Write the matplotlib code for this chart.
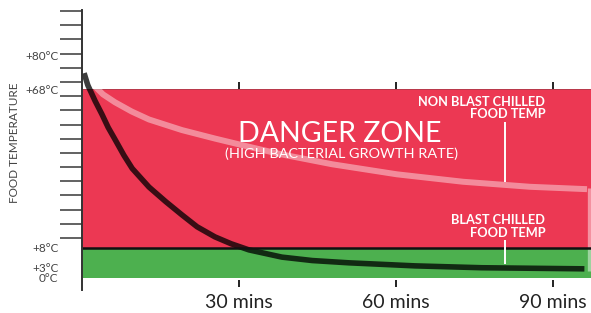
import matplotlib
matplotlib.use("Agg")
import matplotlib.pyplot as plt
import numpy as np

plt.rcParams['font.family'] = ['Lato', 'DejaVu Sans']

# time (mins) / temperature (deg C)
blast_t = [0.4, 1.1, 2.5, 3.8, 5.0, 6.3, 8.0, 9.6, 12.8, 16.0, 19.1, 22.0,
           25.4, 28.5, 31.9, 38.2, 44.0, 51.0, 63.6, 76.4, 96.0]
blast_temp = [73.6, 69.4, 63.5, 58.5, 53.5, 49.0, 43.0, 38.0, 31.0, 25.5, 20.5, 16.0,
              12.2, 9.6, 7.5, 5.6, 4.7, 4.1, 3.3, 2.8, 2.5]
nonblast_t = [0.4, 1.9, 4.0, 6.3, 9.5, 12.8, 19.1, 25.4, 31.9, 38.2, 47.8,
              60.2, 72.8, 85.6, 96.5]
nonblast_temp = [73.6, 70.0, 66.0, 63.0, 59.5, 56.5, 52.5, 49.3, 46.2, 43.3, 39.6,
                 35.8, 33.0, 31.1, 30.2]

time_ticks = [30, 60, 90]
time_labels = ['30 mins', '60 mins', '90 mins']
temp_ticks = [80, 68, 8, 3, 0]
temp_labels = ['+80°C', '+68°C', '+8°C', '+3°C', '0°C']
danger_lo, danger_hi = 8, 68

# the temperature axis of the drawing is not linear: piecewise scale
knot_temp = [-5, 0, 3, 8, 68, 80, 100]
knot_h = [-6.3, 12, 23, 42, 201, 235, 291.7]

def fwd(v):
    return np.interp(v, knot_temp, knot_h)

def inv(v):
    return np.interp(v, knot_h, knot_temp)

RED = '#ec3853'
GREEN = '#4db04f'

fig = plt.figure(figsize=(5.91, 3.13), dpi=100)
ax = fig.add_axes([82 / 591, 23 / 313, 509 / 591, 280 / 313])
ax.set_yscale('function', functions=(fwd, inv))
xmax = 509 / 157 * 30
ax.set_xlim(0, xmax)
ax.set_ylim(inv(0), inv(280))

ax.axhspan(danger_lo, danger_hi, color=RED, lw=0, zorder=1)
ax.axhspan(0, danger_lo, color=GREEN, lw=0, zorder=1)
ax.axhline(danger_lo, color='#111111', lw=1.8, zorder=4)
ax.axhline(danger_hi, color='#b03a4a', lw=0.6, zorder=2)

ax.plot(nonblast_t, nonblast_temp, color='white', alpha=0.42, lw=4.3,
        solid_capstyle='butt', solid_joinstyle='round', zorder=3)
ax.plot(blast_t, blast_temp, color='black', alpha=0.76, lw=4.0,
        solid_capstyle='butt', solid_joinstyle='round', zorder=3)
# pale end of the tube at the right edge
ax.vlines(96.9, 2.0, 30.5, color='white', alpha=0.45, lw=2.4, zorder=3)

# small marks at the top of the danger zone and below the green zone
ax.vlines(time_ticks, danger_hi, 70.5, color='#222222', lw=1.4, zorder=2)
ax.vlines(time_ticks, inv(3), inv(10), color='#222222', lw=1.4, zorder=2)

ax.text(49.3, 51.0, 'DANGER ZONE', color='white', fontsize=20.5,
        ha='center', va='center', zorder=5)
ax.text(49.5, 43.4, '(HIGH BACTERIAL GROWTH RATE)', color='white', fontsize=10.4,
        ha='center', va='center', zorder=5)

ax.text(88.5, 60.9, 'NON BLAST CHILLED\nFOOD TEMP', color='white', fontsize=9.2,
        fontweight='bold', ha='right', va='center', multialignment='right',
        linespacing=1.05, zorder=5)
ax.vlines(80.8, 32.9, 55.6, color='white', lw=1.4, zorder=5)
ax.text(88.5, 16.1, 'BLAST CHILLED\nFOOD TEMP', color='white', fontsize=9.2,
        fontweight='bold', ha='right', va='center', multialignment='right',
        linespacing=1.05, zorder=5)
ax.vlines(80.8, 3.8, 11.0, color='white', lw=1.4, zorder=5)

# axes styling
for s in ['top', 'right', 'bottom']:
    ax.spines[s].set_visible(False)
ax.spines['left'].set_color('#333333')
ax.spines['left'].set_linewidth(1.4)
ax.spines['left'].set_zorder(6)

ax.set_xticks(time_ticks)
ax.set_xticklabels(time_labels, fontsize=14, color='#222222')
ax.tick_params(axis='x', length=0, pad=3)

ax.set_yticks(temp_ticks)
ax.set_yticklabels(temp_labels, fontsize=8.5, color='#444444')
ax.tick_params(axis='y', which='major', length=0, pad=17)
deco = inv(np.append(np.linspace(279, 279 - 16 * 14.19, 17), 12))
ax.set_yticks(deco, minor=True)
ax.tick_params(axis='y', which='minor', length=16, width=1.3, color='#555555')

fig.text(15 / 591, 1 - 143 / 313, 'FOOD TEMPERATURE', rotation=90, fontsize=8.5,
         color='#444444', ha='center', va='center')

fig.savefig('out.png', dpi=100, facecolor='white')
